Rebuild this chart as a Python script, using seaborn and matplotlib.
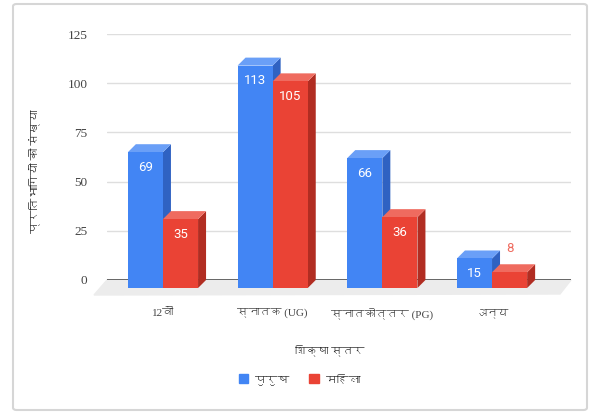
import matplotlib
matplotlib.use('Agg')
import matplotlib.pyplot as plt
import pandas as pd
import seaborn as sns
from matplotlib import font_manager
from matplotlib.ft2font import FT2Font
from matplotlib.patches import Polygon, Patch, FancyBboxPatch

categories = ['12वीं', 'स्नातक (UG)', 'स्नातकोत्तर (PG)', 'अन्य']
series_names = ['पुरुष', 'महिला']
male = [69, 113, 66, 15]
female = [35, 105, 36, 8]
yticks = [0, 25, 50, 75, 100, 125]

BLUE, BLUE_TOP, BLUE_SIDE = '#4285f4', '#6a9ff7', '#2f62c2'
RED, RED_TOP, RED_SIDE = '#ea4335', '#ef6b5f', '#b12d22'


def find_deva_font():
    # look for any installed font that has Devanagari glyphs
    for f in font_manager.fontManager.ttflist:
        try:
            if 0x0915 in FT2Font(f.fname).get_charmap():
                return f.name
        except Exception:
            pass
    return None


sns.set_style('white')
deva = find_deva_font()
sans = ['Roboto', 'DejaVu Sans']
serif = ['Liberation Serif', 'DejaVu Serif']
if deva:
    sans = ['Roboto', deva, 'DejaVu Sans']
    serif = ['Liberation Serif', deva, 'DejaVu Serif']
plt.rcParams['font.family'] = sans

df = pd.DataFrame({
    'स्तर': categories * 2,
    'लिंग': [series_names[0]] * 4 + [series_names[1]] * 4,
    'संख्या': male + female,
})

W, H = 590, 412
fig = plt.figure(figsize=(W / 100, H / 100), dpi=100)
ax = fig.add_axes([107 / W, 1 - 280 / H, 464 / W, 246 / H])

sns.barplot(data=df, x='स्तर', y='संख्या', hue='लिंग', palette=[BLUE, RED],
            width=0.64, saturation=1, legend=False, ax=ax, zorder=3)

ax.set_xlim(-0.583, 3.647)
ax.set_ylim(0, 125)
ax.set_yticks(yticks)
ax.yaxis.grid(True, color='#dedede', lw=1)
ax.set_axisbelow(True)
ax.axhline(0, color='#666666', lw=1.4, zorder=2)
for s in ax.spines.values():
    s.set_visible(False)

# depth of the fake 3d effect, in pixels -> data units
ux = ax.bbox.width / (ax.get_xlim()[1] - ax.get_xlim()[0])
uy = ax.bbox.height / (ax.get_ylim()[1] - ax.get_ylim()[0])
ddx, ddy = 8 / ux, 8 / uy

bars = sorted(list(ax.patches), key=lambda p: p.get_x())

# floor
x0, x1 = ax.get_xlim()
ax.add_patch(Polygon([(x0, 0), (x1, 0), (x1 - 11 / ux, -14 / uy), (x0 - 13 / ux, -15 / uy)],
                     closed=True, color='#ececec', clip_on=False, zorder=1))

z = 4
for p in bars:
    x, w, h = p.get_x(), p.get_width(), p.get_height()
    is_blue = matplotlib.colors.to_hex(p.get_facecolor()) == BLUE
    top_c = BLUE_TOP if is_blue else RED_TOP
    side_c = BLUE_SIDE if is_blue else RED_SIDE
    fx, fy = x - ddx, -ddy
    side = Polygon([(fx + w, fy), (x + w, 0), (x + w, h), (fx + w, h + fy)],
                   closed=True, color=side_c, lw=0, clip_on=False, zorder=z)
    top = Polygon([(fx, h + fy), (fx + w, h + fy), (x + w, h), (x, h)],
                  closed=True, color=top_c, lw=0, clip_on=False, zorder=z)
    ax.add_patch(side)
    ax.add_patch(top)
    p.set_x(fx)
    p.set_y(fy)
    p.set_clip_on(False)
    p.set_linewidth(0)
    p.set_zorder(z + 1)
    cx = fx + w / 2
    if h < 10:
        ax.text(cx, h + fy + 24 / uy, f'{h:.0f}', ha='center', va='center',
                color=RED_TOP, fontsize=9.5, family=['Roboto', 'DejaVu Sans'], zorder=z + 2)
    else:
        ax.text(cx, h + fy - 15 / uy, f'{h:.0f}', ha='center', va='center',
                color='white', fontsize=9.5, family=['Roboto', 'DejaVu Sans'], zorder=z + 2)
    z += 3

ax.tick_params(axis='both', length=0, colors='#444444')
ax.tick_params(axis='x', pad=20)
ax.tick_params(axis='y', pad=14)
ax.set_xticks([i - ddx for i in range(len(categories))], categories)
for lbl in ax.get_xticklabels():
    lbl.set_family(serif)
    lbl.set_fontsize(8)
    lbl.set_color('#444444')
for lbl in ax.get_yticklabels():
    lbl.set_family(serif)
    lbl.set_fontsize(9.5)
    lbl.set_color('#444444')

ax.set_xlabel('शिक्षा स्तर', fontsize=8, color='#333333', family=serif)
ax.xaxis.set_label_coords((330 - 107) / 464, (280 - 350) / 246)
ax.xaxis.label.set_va('center')
ax.set_ylabel('प्रतिभागियों की संख्या', fontsize=8.5, color='#333333', family=serif)
ax.yaxis.set_label_coords((35 - 107) / 464, (280 - 171) / 246)
ax.yaxis.label.set_va('center')

handles = [Patch(color=BLUE, label=series_names[0]), Patch(color=RED, label=series_names[1])]
leg = fig.legend(handles=handles, loc='center', bbox_to_anchor=(300 / W, 1 - 380 / H), ncol=2,
                 frameon=False, handlelength=0.8, handleheight=0.8, handletextpad=0.6,
                 columnspacing=1.6, fontsize=8.5, labelcolor='#333333')
for t in leg.get_texts():
    t.set_family(serif)

frame = FancyBboxPatch((13 / W, 1 - 410 / H), 574 / W, 406 / H,
                       boxstyle='round,pad=0,rounding_size=0.006', transform=fig.transFigure,
                       fill=False, ec='#d6d6d6', lw=1.5)
fig.patches.append(frame)

fig.savefig('out.png', dpi=100)
